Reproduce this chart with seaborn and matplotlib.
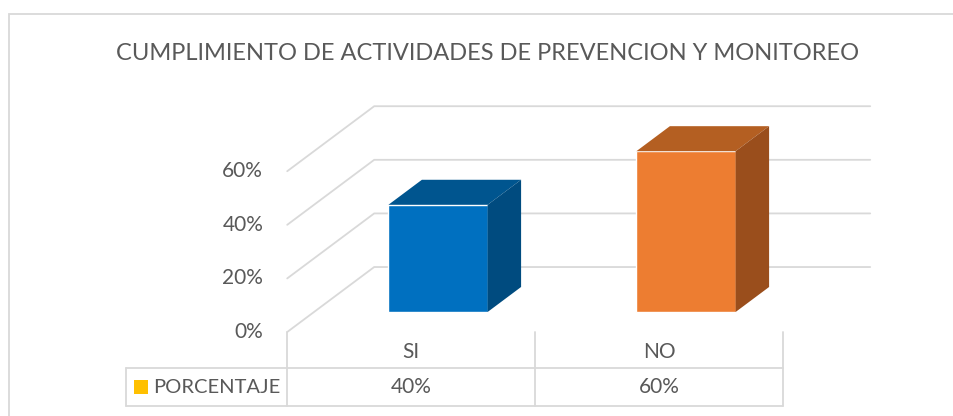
import numpy as np
import pandas as pd
import matplotlib
matplotlib.use("Agg")
import matplotlib.pyplot as plt
from matplotlib.patches import Polygon, Rectangle
import seaborn as sns

# data
titulo = "CUMPLIMIENTO DE ACTIVIDADES DE PREVENCION Y MONITOREO"
categorias = ["SI", "NO"]
porcentaje = [0.40, 0.60]
serie = "PORCENTAJE"
ticks = [0.0, 0.2, 0.4, 0.6]

# colours
front_cols = ["#0070C0", "#ED7D31"]
top_cols = ["#00558F", "#B45F22"]
side_cols = ["#004B7F", "#9A4E1C"]
legend_col = "#FFC000"
grid_col = "#D9D9D9"
text_col = "#595959"

sns.set_theme(style="white")
plt.rcParams["font.family"] = ["Lato", "DejaVu Sans"]

W, H = 954, 416
fig = plt.figure(figsize=(W / 100, H / 100), dpi=100)

# axes = plane of the bar front faces (1.0 = 268 px, 1 category = 248 px)
ax = fig.add_axes([314 / W, (H - 312) / H, 496 / W, 0.8 * 268 / H])
df = pd.DataFrame({"cat": categorias, "val": porcentaje})
sns.barplot(data=df, x="cat", y="val", hue="cat", palette=front_cols,
            width=0.4, saturation=1, legend=False, ax=ax, zorder=3)
ax.set_xlim(-0.5, 1.5)
ax.set_ylim(0, 0.8)
ax.axis("off")

# oblique 3d projection: z=0 front of floor, z=1 back wall
DX, DY = 87 / 248, 65 / 268
ZB, ZD = 0.308, 0.385  # depth of bar front, bar depth
PX = 1 / 248  # category units per pixel
PY = 1 / 268  # value units per pixel


def proj(x, y, z):
    return x + (z - ZB) * DX, y + (z - ZB) * DY


# back wall + side wall gridlines
for t in ticks:
    a = proj(-0.5, t, 1)
    b = proj(1.5, t, 1)
    c = proj(-0.5, t, 0)
    ax.plot([c[0], a[0], b[0]], [c[1], a[1], b[1]], color=grid_col, lw=1.3,
            zorder=1, clip_on=False, solid_joinstyle="miter")
    ax.annotate(f"{t:.0%}", xy=c, xytext=(-24, 0), textcoords="offset pixels",
                ha="right", va="center", fontsize=15, color=text_col,
                annotation_clip=False)

# 3d faces of the bars
for i, p in enumerate(ax.patches):
    x0, w, h = p.get_x(), p.get_width(), p.get_height()
    ddx, ddy = ZD * DX, ZD * DY
    top = [(x0, h), (x0 + w, h), (x0 + w + ddx, h + ddy), (x0 + ddx, h + ddy)]
    side = [(x0 + w, 0), (x0 + w, h), (x0 + w + ddx, h + ddy), (x0 + w + ddx, ddy)]
    ax.add_patch(Polygon(top, closed=True, fc=top_cols[i], ec="none", zorder=3, clip_on=False))
    ax.add_patch(Polygon(side, closed=True, fc=side_cols[i], ec="none", zorder=3, clip_on=False))
    p.set_clip_on(False)

# data table under the chart
x_edges = [proj(b, 0, 0)[0] for b in [-0.5, 0.5, 1.5]]
y0 = proj(-0.5, 0, 0)[1]
y_row = y0 - 36 * PY
y_bot = y_row - 38 * PY
x_tab = x_edges[0] - 161 * PX
for xe in x_edges:
    ax.plot([xe, xe], [y0, y_bot], color=grid_col, lw=1.3, clip_on=False)
ax.plot([x_tab, x_edges[-1]], [y_row, y_row], color=grid_col, lw=1.3, clip_on=False)
ax.plot([x_tab, x_edges[-1]], [y_bot, y_bot], color=grid_col, lw=1.3, clip_on=False)
ax.plot([x_tab, x_tab], [y_row, y_bot], color=grid_col, lw=1.3, clip_on=False)

for i, (c, v) in enumerate(zip(categorias, porcentaje)):
    xc = proj(i, 0, 0)[0]
    ax.text(xc, (y0 + y_row) / 2 - 2 * PY, c, ha="center", va="center",
            fontsize=15, color=text_col, clip_on=False)
    ax.text(xc, (y_row + y_bot) / 2, f"{v:.0%}", ha="center", va="center",
            fontsize=15, color=text_col, clip_on=False)

ax.add_patch(Rectangle((x_tab + 8 * PX, (y_row + y_bot) / 2 - 7 * PY), 14 * PX, 14 * PY,
                       fc=legend_col, ec="none", clip_on=False))
ax.text(x_tab + 27 * PX, (y_row + y_bot) / 2, serie, ha="left", va="center",
        fontsize=14.5, color=text_col, clip_on=False)

# chart area border
fig.patches.append(Rectangle((9 / W, -0.1), 1.1, (H - 14) / H + 0.1,
                             transform=fig.transFigure, fill=False,
                             ec=grid_col, lw=1.3))

fig.text(488 / W, 1 - 54 / H, titulo, ha="center", va="center",
         fontsize=17, color=text_col)

fig.savefig("out.png", dpi=100)
